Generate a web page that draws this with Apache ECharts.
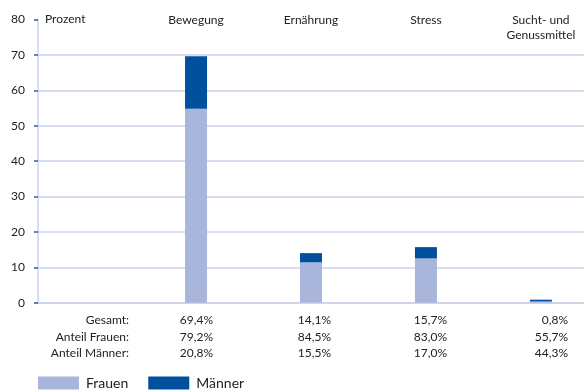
<!DOCTYPE html>
<html><head><meta charset="utf-8">
<script src="https://cdn.jsdelivr.net/npm/echarts@6/dist/echarts.min.js"></script>
<style>html,body{margin:0;padding:0;background:#fff}#c{width:584px;height:392px}</style>
</head><body><div id="c"></div>
<script>
var categories = ['Bewegung', 'Ernährung', 'Stress', 'Sucht- und\nGenussmittel'];
var frauen = [54.8, 11.4, 12.5, 0.35];
var maenner = [14.8, 2.6, 3.2, 0.5];
var rowLabels = ['Gesamt:', 'Anteil Frauen:', 'Anteil Männer:'];
var gesamt = ['69,4%', '14,1%', '15,7%', '0,8%'];
var anteilFrauen = ['79,2%', '84,5%', '83,0%', '55,7%'];
var anteilMaenner = ['20,8%', '15,5%', '17,0%', '44,3%'];
var yTicks = [0, 10, 20, 30, 40, 50, 60, 70, 80];

var FONT = 'Lato';
var LIGHT = '#a9b5db', DARK = '#00509e', GRID = '#cdd2ea', TXT = '#222';

// fine category slots: each chart category occupies slot 5 + 4*i of 19 slots
var SLOTS = 19;
function slotOf(i){ return 5 + 4 * i; }
var slotNames = [];
for (var s = 0; s < SLOTS; s++) slotNames.push('s' + s);
function spread(arr){
  var out = [];
  for (var s = 0; s < SLOTS; s++) out.push('-');
  arr.forEach(function(v, i){ out[slotOf(i)] = v; });
  return out;
}

var chart = echarts.init(document.getElementById('c'));
var gridColors = yTicks.map(function(t){ return t === 80 ? 'rgba(0,0,0,0)' : GRID; });

chart.setOption({
  animation: false,
  grid: { left: 38, right: 0, top: 19.5, bottom: 89.3 },
  xAxis: { type: 'category', data: slotNames, boundaryGap: true,
    axisLine: { show: true, lineStyle: { color: GRID, width: 1.5 } },
    axisTick: { show: false }, axisLabel: { show: false } },
  yAxis: {
    type: 'value', min: 0, max: 80, interval: 10,
    axisLine: { show: true, lineStyle: { color: GRID, width: 1.5 } },
    axisTick: { show: true, length: 4, lineStyle: { color: '#2a5ca8', width: 1.5 } },
    axisLabel: { margin: 13, color: TXT, fontFamily: FONT, fontSize: 12 },
    splitLine: { show: true, lineStyle: { color: gridColors, width: 1.5 } }
  },
  legend: {
    left: 33, top: 371, itemWidth: 41, itemHeight: 13, itemGap: 20, icon: 'rect',
    textStyle: { fontFamily: FONT, fontSize: 14, color: TXT, padding: [0,0,0,2] },
    data: ['Frauen', 'Männer']
  },
  series: [
    { name: 'Frauen', type: 'bar', stack: 's', barWidth: 22, data: spread(frauen),
      itemStyle: { color: LIGHT } },
    { name: 'Männer', type: 'bar', stack: 's', barWidth: 22, data: spread(maenner),
      itemStyle: { color: DARK } }
  ]
});

var g = [];
g.push({ type: 'text', left: 45, top: 13, style: { text: 'Prozent', font: '12px ' + FONT, fill: TXT } });
categories.forEach(function(c, i){
  var x = chart.convertToPixel({ xAxisIndex: 0 }, slotNames[slotOf(i)]);
  g.push({ type: 'text', x: x, y: 13, style: { text: c, font: '12px ' + FONT, fill: TXT,
    textAlign: 'center', textVerticalAlign: 'top', lineHeight: 15 } });
});
var rows = [gesamt, anteilFrauen, anteilMaenner];
var rowY = [320, 337, 353];
var colRight = [213, 331, 447, 568];
rowLabels.forEach(function(l, r){
  g.push({ type: 'text', x: 129, y: rowY[r], style: { text: l, font: '12px ' + FONT, fill: TXT,
    textAlign: 'right', textVerticalAlign: 'middle' } });
  rows[r].forEach(function(v, i){
    g.push({ type: 'text', x: colRight[i], y: rowY[r], style: { text: v, font: '12px ' + FONT, fill: TXT,
      textAlign: 'right', textVerticalAlign: 'middle' } });
  });
});
chart.setOption({ graphic: g });
</script></body></html>
